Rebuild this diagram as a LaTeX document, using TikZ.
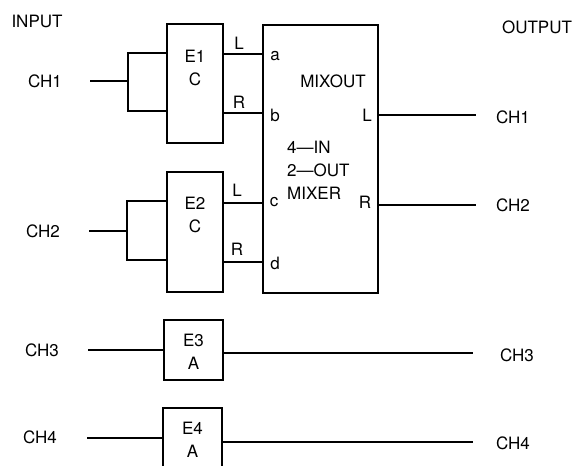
\documentclass[tikz,border=0pt]{standalone}
\usepackage{fontspec}
\setmainfont{TeX Gyre Heros}
\begin{document}
\begin{tikzpicture}[x=1pt,y=-1pt,
  box/.style={draw,line width=1.8pt,inner sep=0pt},
  wire/.style={line width=1.1pt},
  lbl/.style={inner sep=0pt,font=\fontsize{17}{22}\selectfont},
  twol/.style={lbl,align=center,font=\fontsize{17}{23}\selectfont}]
\useasboundingbox (0,0) rectangle (577,465);
% boxes
\node[box,minimum width=56pt,minimum height=119pt] (e1) at (195,83.5) {};
\node[box,minimum width=56pt,minimum height=120pt] (e2) at (195,232) {};
\node[box,minimum width=59pt,minimum height=60pt] (e3) at (193.5,350) {};
\node[box,minimum width=59pt,minimum height=70pt] (e4) at (192.5,443) {};
\node[box,minimum width=115pt,minimum height=268pt] (mix) at (320.5,159) {};
% box texts
\node[twol] (e1t) at (195,68) {E1\\C};
\node[twol] (e2t) at (195,214.5) {E2\\C};
\node[twol] (e3t) at (193.5,352) {E3\\A};
\node[twol] (e4t) at (192.5,440) {E4\\A};
\node[lbl] (mo) at (333,81) {MIXOUT};
\node[lbl,anchor=west,align=left,font=\fontsize{17}{23}\selectfont] (mt) at (287,170) {4—IN\\2—OUT\\MIXER};
\node[lbl] (pa) at (275,56) {a};
\node[lbl] (pb) at (275,115) {b};
\node[lbl] (pc) at (274,202) {c};
\node[lbl] (pd) at (275,263) {d};
\node[lbl] (pl) at (367,115) {L};
\node[lbl] (pr) at (365,202) {R};
\node[lbl] (l1) at (239,43) {L};
\node[lbl] (r1) at (239,102) {R};
\node[lbl] (l2) at (237,190) {L};
\node[lbl] (r2) at (237,249) {R};
% side labels
\node[lbl] (inp) at (37,21) {INPUT};
\node[lbl] (outp) at (537,27) {OUTPUT};
\node[lbl] (i1) at (45,81) {CH1};
\node[lbl] (i2) at (43,231) {CH2};
\node[lbl] (i3) at (42,350) {CH3};
\node[lbl] (i4) at (40,437) {CH4};
\node[lbl] (o1) at (513,117) {CH1};
\node[lbl] (o2) at (513,205) {CH2};
\node[lbl] (o3) at (517,355) {CH3};
\node[lbl] (o4) at (513,443) {CH4};
% wire end points
\coordinate (a1) at (90,81);   \coordinate (f1) at (128,81);
\coordinate (f1t) at (128,53); \coordinate (f1b) at (128,111);
\coordinate (a2) at (89,231);  \coordinate (f2) at (127,231);
\coordinate (f2t) at (127,201);\coordinate (f2b) at (127,260);
\coordinate (a3) at (88,350);  \coordinate (a4) at (87,438);
\coordinate (b1) at (476,115); \coordinate (b2) at (476,205);
\coordinate (b3) at (473,353); \coordinate (b4) at (473,442);
% wires
\draw[wire] (a1) -- (f1);
\draw[wire] (e1.west |- f1t) -- (f1t) -- (f1b) -- (e1.west |- f1b);
\draw[wire] (e1.east |- 0,54) -- (mix.west |- 0,54);
\draw[wire] (e1.east |- 0,113) -- (mix.west |- 0,113);
\draw[wire] (a2) -- (f2);
\draw[wire] (e2.west |- f2t) -- (f2t) -- (f2b) -- (e2.west |- f2b);
\draw[wire] (e2.east |- 0,203) -- (mix.west |- 0,203);
\draw[wire] (e2.east |- 0,262) -- (mix.west |- 0,262);
\draw[wire] (mix.east |- b1) -- (b1);
\draw[wire] (mix.east |- b2) -- (b2);
\draw[wire] (a3) -- (e3.west |- a3);
\draw[wire] (e3.east |- b3) -- (b3);
\draw[wire] (a4) -- (e4.west |- a4);
\draw[wire] (e4.east |- b4) -- (b4);
\end{tikzpicture}
\end{document}
